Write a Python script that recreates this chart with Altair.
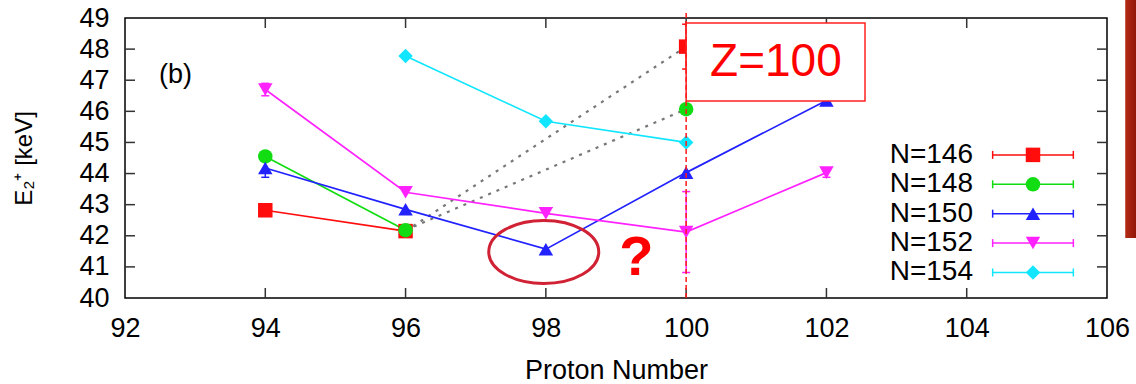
import altair as alt
import pandas as pd

# ---------------- data ----------------
series = ["N=146", "N=148", "N=150", "N=152", "N=154"]
colors = ["#ff0d0d", "#12dc12", "#2222ff", "#ff22ff", "#12e6ff"]
shapes = ["square", "circle", "triangle-up", "triangle-down", "M0,-1L1,0L0,1L-1,0Z"]
sizes = [210, 210, 130, 130, 180]

proton = {
    "N=146": [94, 96, 100],
    "N=148": [94, 96, 100],
    "N=150": [94, 96, 98, 100, 102],
    "N=152": [94, 96, 98, 100, 102],
    "N=154": [96, 98, 100],
}
energy = {
    "N=146": [42.82, 42.15, 48.08],
    "N=148": [44.55, 42.18, 46.07],
    "N=150": [44.18, 42.85, 41.57, 44.03, 46.35],
    "N=152": [46.70, 43.40, 42.72, 42.12, 44.03],
    "N=154": [47.78, 45.68, 45.00],
}
error = {
    "N=146": [0.0, 0.0, 0.72],
    "N=148": [0.0, 0.0, 0.0],
    "N=150": [0.30, 0.0, 0.0, 0.0, 0.0],
    "N=152": [0.20, 0.0, 0.0, 1.30, 0.15],
    "N=154": [0.0, 0.0, 0.08],
}
# points joined by a solid line
solid = {
    "N=146": [94, 96],
    "N=148": [94, 96],
    "N=150": [94, 96, 98, 100, 102],
    "N=152": [94, 96, 98, 100, 102],
    "N=154": [96, 98, 100],
}
# dotted extrapolation links (series, from Z, to Z)
dotted = [("N=146", 96, 100), ("N=148", 96, 100)]

x_ticks = [92, 94, 96, 98, 100, 102, 104, 106]
y_ticks = [40, 41, 42, 43, 44, 45, 46, 47, 48, 49]

# ---------------- tables ----------------
rows = []
for s in series:
    for z, e, er in zip(proton[s], energy[s], error[s]):
        rows.append(dict(series=s, z=z, e=e, lo=e - er, hi=e + er, err=er,
                         solid=z in solid[s]))
pts = pd.DataFrame(rows)
solid_df = pts[pts.solid]
err_df = pts[pts.err > 0]

dot_rows = []
for k, (s, a, b) in enumerate(dotted):
    for z in (a, b):
        dot_rows.append(dict(link=k, z=z, e=energy[s][proton[s].index(z)]))
dot_df = pd.DataFrame(dot_rows)

# legend rows (placed inside the plot, gnuplot style)
leg_top, leg_step = 44.6, 0.945
leg = pd.DataFrame(dict(series=series,
                        y=[leg_top - i * leg_step for i in range(len(series))],
                        xt=104.09, x1=104.37, x2=105.52, xm=104.945))

# ---------------- scales / axes ----------------
FONT = "Liberation Sans"
xs = alt.Scale(domain=[92, 106], nice=False, zero=False)
ys = alt.Scale(domain=[40, 49], nice=False, zero=False)
xaxis = alt.Axis(values=x_ticks, format="d", title="Proton Number", grid=False,
                 ticks=False, domain=False, labelFlush=False, labelOverlap=False,
                 labelFontSize=27, titleFontSize=27, labelPadding=17,
                 titlePadding=16, titleFontWeight="normal")
yaxis = alt.Axis(values=y_ticks, format="d", title="E₂⁺ [keV]", grid=False,
                 ticks=False, domain=False, labelFlush=False, labelOverlap=False,
                 labelFontSize=27, titleFontSize=24, labelPadding=16,
                 titlePadding=42, titleFontWeight="normal")


def X(f):
    return alt.X(f, type="quantitative", scale=xs, axis=xaxis)


def Y(f):
    return alt.Y(f, type="quantitative", scale=ys, axis=yaxis)


cscale = alt.Scale(domain=series, range=colors)
sscale = alt.Scale(domain=series, range=shapes)
zscale = alt.Scale(domain=series, range=sizes)
C = alt.Color("series:N", scale=cscale, legend=None)
S = alt.Shape("series:N", scale=sscale, legend=None)
Z = alt.Size("series:N", scale=zscale, legend=None)

# ---------------- inward frame ticks ----------------
ytk = pd.DataFrame(dict(y=y_ticks[1:-1], xl=92, xr=106))
xtk = pd.DataFrame(dict(x=x_ticks[1:-1], yb=40, yt=49))
tick_col = "#333333"
t_left = alt.Chart(ytk).mark_rule(color=tick_col, strokeWidth=1.5, x2Offset=10).encode(
    x=X("xl"), x2="xl", y=Y("y"))
t_right = alt.Chart(ytk).mark_rule(color=tick_col, strokeWidth=1.5, x2Offset=-10).encode(
    x=X("xr"), x2="xr", y=Y("y"))
t_bot = alt.Chart(xtk).mark_rule(color=tick_col, strokeWidth=1.5, y2Offset=-10).encode(
    x=X("x"), y=Y("yb"), y2="yb")
t_top = alt.Chart(xtk).mark_rule(color=tick_col, strokeWidth=1.5, y2Offset=10).encode(
    x=X("x"), y=Y("yt"), y2="yt")

# ---------------- data layers ----------------
dots = alt.Chart(dot_df).mark_line(color="#777777", strokeWidth=2.2,
                                   strokeDash=[3, 6]).encode(
    x=X("z"), y=Y("e"), detail="link:N")
lines = alt.Chart(solid_df).mark_line(strokeWidth=1.7).encode(
    x=X("z"), y=Y("e"), color=C, detail="series:N")
ebar = alt.Chart(err_df).mark_rule(strokeWidth=1.5).encode(
    x=X("z"), y=Y("lo"), y2="hi", color=C)
cap_lo = alt.Chart(err_df).mark_rule(strokeWidth=1.5, xOffset=-4, x2Offset=4).encode(
    x=X("z"), x2="z", y=Y("lo"), color=C)
cap_hi = alt.Chart(err_df).mark_rule(strokeWidth=1.5, xOffset=-4, x2Offset=4).encode(
    x=X("z"), x2="z", y=Y("hi"), color=C)
points = alt.Chart(pts).mark_point(filled=True, opacity=1, strokeWidth=0).encode(
    x=X("z"), y=Y("e"), color=C, shape=S, size=Z)

# ---------------- legend ----------------
leg_text = alt.Chart(leg).mark_text(align="right", baseline="middle", fontSize=28,
                                    font=FONT, color="black").encode(
    x=X("xt"), y=Y("y"), text="series:N")
leg_line = alt.Chart(leg).mark_rule(strokeWidth=1.5).encode(
    x=X("x1"), x2="x2", y=Y("y"), color=C)
leg_cap1 = alt.Chart(leg).mark_rule(strokeWidth=1.5, yOffset=-4, y2Offset=4).encode(
    x=X("x1"), y=Y("y"), y2="y", color=C)
leg_cap2 = alt.Chart(leg).mark_rule(strokeWidth=1.5, yOffset=-4, y2Offset=4).encode(
    x=X("x2"), y=Y("y"), y2="y", color=C)
leg_pts = alt.Chart(leg).mark_point(filled=True, opacity=1, strokeWidth=0).encode(
    x=X("xm"), y=Y("y"), color=C, shape=S, size=Z)

# ---------------- annotations ----------------
box_df = pd.DataFrame(dict(x1=[100.0], x2=[102.55], y1=[46.33], y2=[48.84],
                           xc=[101.28], yc=[47.58], label=["Z=100"]))
zbox = alt.Chart(box_df).mark_rect(fill="white", stroke="#ff2020", strokeWidth=1.5).encode(
    x=X("x1"), x2="x2", y=Y("y1"), y2="y2")
ztext = alt.Chart(box_df).mark_text(fontSize=46, font=FONT, color="#ff0000",
                                    align="center", baseline="middle").encode(
    x=X("xc"), y=Y("yc"), text="label:N")
vline_df = pd.DataFrame(dict(x=[100.0], y1=[40.0], y2=[49.26]))
vline = alt.Chart(vline_df).mark_rule(color="#ff1a1a", strokeWidth=1.5,
                                      strokeDash=[5, 3]).encode(
    x=X("x"), y=Y("y1"), y2="y2")

ell_df = pd.DataFrame(dict(x=[97.97], y=[41.48]))
ellipse = alt.Chart(ell_df).mark_point(
    shape="M-1,0A1,0.573,0,1,0,1,0A1,0.573,0,1,0,-1,0",
    size=12100, filled=False, stroke="#d02234", strokeWidth=3, opacity=1).encode(
    x=X("x"), y=Y("y"))

q_df = pd.DataFrame(dict(x=[99.29], y=[41.28], t=["?"]))
qmark = alt.Chart(q_df).mark_text(fontSize=56, fontWeight="bold", font=FONT,
                                  color="#ff0000", align="center",
                                  baseline="middle").encode(
    x=X("x"), y=Y("y"), text="t:N")

b_df = pd.DataFrame(dict(x=[92.72], y=[47.17], t=["(b)"]))
blabel = alt.Chart(b_df).mark_text(fontSize=27, font=FONT, color="black",
                                   align="center", baseline="middle").encode(
    x=X("x"), y=Y("y"), text="t:N")

side_df = pd.DataFrame(dict(x1=[106.26], x2=[106.45], y1=[41.93], y2=[49.7]))
side = alt.Chart(side_df).mark_rect(
    fill=alt.Gradient(gradient="linear", x1=0, x2=1, y1=0, y2=0,
                      stops=[alt.GradientStop(color="#b52a14", offset=0),
                             alt.GradientStop(color="#8a1206", offset=1)])).encode(
    x=X("x1"), x2="x2", y=Y("y1"), y2="y2")

chart = alt.layer(
    t_left, t_right, t_bot, t_top,
    dots, lines, ebar, cap_lo, cap_hi, points,
    leg_line, leg_cap1, leg_cap2, leg_pts, leg_text,
    zbox, ztext, vline, ellipse, qmark, blabel, side,
).properties(
    width=982, height=280,
    autosize=alt.AutoSizeParams(type="none"),
    padding={"left": 125, "top": 18, "right": 29, "bottom": 86},
    background="white",
).configure_view(
    stroke="black", strokeWidth=1.5
).configure_axis(
    labelFont=FONT, titleFont=FONT, labelColor="black", titleColor="black"
)

chart.save("out.html", embed_options={"renderer": "svg", "actions": False})
